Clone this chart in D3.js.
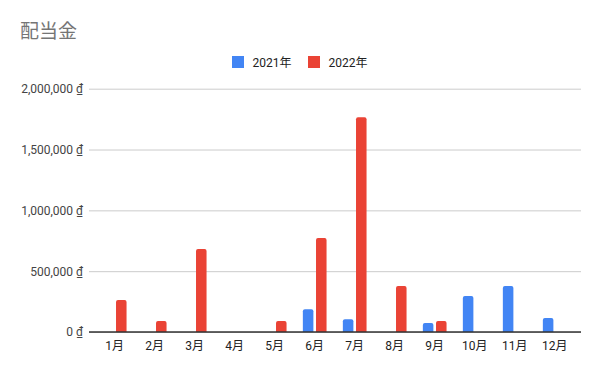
<!DOCTYPE html>
<html>
<head>
<meta charset="utf-8">
<script src="https://cdn.jsdelivr.net/npm/d3@7"></script>
<style>
  body { margin: 0; background: #fff; }
  text { font-family: Roboto, "Noto Sans CJK JP", sans-serif; }
</style>
</head>
<body>
<div id="chart"></div>
<script>
// data
var months = ['1月','2月','3月','4月','5月','6月','7月','8月','9月','10月','11月','12月'];
var seriesNames = ['2021年', '2022年'];
var values2021 = [0, 0, 0, 0, 0, 186000, 104000, 0, 74000, 296000, 378000, 115000];
var values2022 = [263000, 90000, 682000, 0, 90000, 773000, 1765000, 378000, 90000, 0, 0, 0];
var yTicks = [0, 500000, 1000000, 1500000, 2000000];

var colors = ['#4285F4', '#EA4335'];
var W = 600, H = 371;
var plotLeft = 89, plotRight = 581, plotTop = 88.7, plotBottom = 332;

var svg = d3.select('#chart').append('svg')
    .attr('width', W)
    .attr('height', H);

var x = d3.scaleBand().domain(months).range([94.7, 574.7]);
var xs = d3.scaleBand().domain(seriesNames).range([-11.85, 11.85]).paddingInner(0.2);
var y = d3.scaleLinear().domain([0, 2000000]).range([plotBottom, plotTop]);

// title
svg.append('text')
    .attr('x', 20).attr('y', 38)
    .attr('font-size', 19)
    .attr('fill', '#757575')
    .text('配当金');

// legend
var legend = svg.append('g');
var legX = [232, 308];
seriesNames.forEach(function(s, i) {
    legend.append('rect')
        .attr('x', legX[i]).attr('y', 56)
        .attr('width', 12).attr('height', 12)
        .attr('fill', colors[i]);
    legend.append('text')
        .attr('x', legX[i] + 20.5).attr('y', 66.5)
        .attr('font-size', 12)
        .attr('fill', '#222')
        .text(s);
});

// grid + y labels
var yAxis = d3.axisLeft(y).tickValues(yTicks)
    .tickSize(-(plotRight - plotLeft))
    .tickPadding(6)
    .tickFormat(function(d) { return d3.format(',')(d) + ' ₫'; });

var gy = svg.append('g')
    .attr('transform', 'translate(' + plotLeft + ',0)')
    .call(yAxis);
gy.select('.domain').remove();
gy.selectAll('.tick line').attr('stroke', '#cccccc');
gy.selectAll('.tick text')
    .attr('font-family', 'Roboto, sans-serif')
    .attr('font-size', 12)
    .attr('fill', '#444');

// bars
var rows = [];
months.forEach(function(m, i) {
    rows.push({ m: m, s: seriesNames[0], v: values2021[i], c: colors[0] });
    rows.push({ m: m, s: seriesNames[1], v: values2022[i], c: colors[1] });
});

function barPath(d) {
    var x0 = x(d.m) + x.bandwidth() / 2 + xs(d.s);
    var w = xs.bandwidth();
    var y0 = y(d.v), y1 = y(0);
    var r = Math.min(2, (y1 - y0) / 2);
    return 'M' + x0 + ',' + y1 +
        'V' + (y0 + r) +
        'Q' + x0 + ',' + y0 + ' ' + (x0 + r) + ',' + y0 +
        'H' + (x0 + w - r) +
        'Q' + (x0 + w) + ',' + y0 + ' ' + (x0 + w) + ',' + (y0 + r) +
        'V' + y1 + 'Z';
}

svg.append('g').selectAll('path')
    .data(rows.filter(function(d) { return d.v > 0; }))
    .enter()
    .append('path')
    .attr('d', barPath)
    .attr('fill', function(d) { return d.c; });

// baseline
svg.append('line')
    .attr('x1', plotLeft).attr('x2', plotRight)
    .attr('y1', y(0)).attr('y2', y(0))
    .attr('stroke', '#333').attr('stroke-width', 1.3);

// x labels
var xAxis = d3.axisBottom(x).tickSize(0).tickPadding(9);
var gx = svg.append('g')
    .attr('transform', 'translate(0,' + plotBottom + ')')
    .call(xAxis);
gx.select('.domain').remove();
gx.selectAll('.tick text')
    .attr('font-family', 'Roboto, "Noto Sans CJK JP", sans-serif')
    .attr('font-size', 12)
    .attr('fill', '#222');
</script>
</body>
</html>
